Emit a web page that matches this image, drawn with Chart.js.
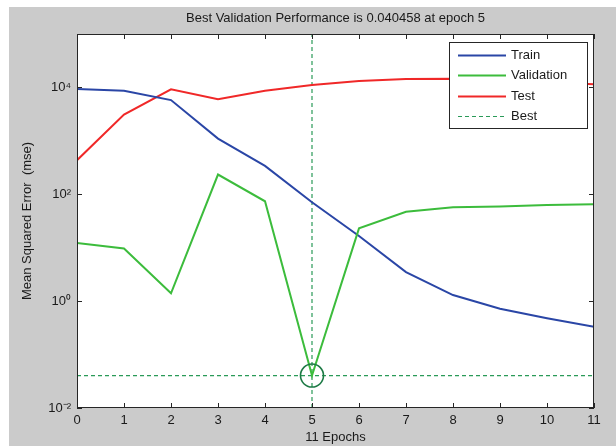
<!DOCTYPE html>
<html>
<head>
<meta charset="utf-8">
<script src="https://cdn.jsdelivr.net/npm/chart.js@4/dist/chart.umd.min.js"></script>
<style>
        html, body { margin: 0; padding: 0; background: #ffffff; }
        #perf { position: absolute; left: 9px; top: 7px; background: #cbcbcb; }
</style>
</head>
<body>
<canvas id="perf" width="607" height="439"></canvas>
<script>
// values
var epochs = [0, 1, 2, 3, 4, 5, 6, 7, 8, 9, 10, 11];
var train_mse = [9300, 8700, 5800, 1100, 340, 71, 16.6, 3.5, 1.3, 0.72, 0.48, 0.33];
var val_mse = [12.2, 9.7, 1.4, 234, 74, 0.040458, 23, 47, 57, 59, 63, 65];
var test_mse = [435, 3100, 9200, 6000, 8700, 11100, 13200, 14400, 14500, 13500, 12500, 11500];
var best_epoch = 5;
var best_perf = 0.040458;
var y_tick_values = [0.01, 1, 100, 10000];
var y_tick_labels = ["10\u207B\u00B2", "10\u2070", "10\u00B2", "10\u2074"];
var series_names = ["Train", "Validation", "Test", "Best"];

var font_family = "'Liberation Sans', Arial, Helvetica, sans-serif";

function to_points(ys) {
        return epochs.map(function(x, i) { return { x: x, y: ys[i] }; });
}

// white axes background, box round the axes with inward ticks
var frame_plugin = {
        id: "frame",
        beforeDatasetsDraw: function(chart) {
                var ctx = chart.ctx;
                var a = chart.chartArea;
                ctx.save();
                ctx.fillStyle = "#ffffff";
                ctx.fillRect(a.left, a.top, a.right - a.left, a.bottom - a.top);
                ctx.restore();
        },
        afterDatasetsDraw: function(chart) {
                var ctx = chart.ctx;
                var a = chart.chartArea;
                var xs = chart.scales.x;
                var ys = chart.scales.y;
                ctx.save();
                ctx.strokeStyle = "#262626";
                ctx.lineWidth = 1;
                ctx.strokeRect(a.left + 0.5, a.top + 0.5, a.right - a.left - 1, a.bottom - a.top - 1);
                ctx.beginPath();
                epochs.forEach(function(e) {
                        var px = Math.round(xs.getPixelForValue(e)) + 0.5;
                        ctx.moveTo(px, a.bottom); ctx.lineTo(px, a.bottom - 5);
                        ctx.moveTo(px, a.top); ctx.lineTo(px, a.top + 5);
                });
                y_tick_values.forEach(function(v) {
                        var py = Math.round(ys.getPixelForValue(v)) + 0.5;
                        ctx.moveTo(a.left, py); ctx.lineTo(a.left + 5, py);
                        ctx.moveTo(a.right, py); ctx.lineTo(a.right - 5, py);
                });
                ctx.stroke();
                ctx.restore();
        }
};

// legend box in the upper right corner of the axes
var legend_plugin = {
        id: "box_legend",
        afterDraw: function(chart) {
                var ctx = chart.ctx;
                var bx = 440, by = 35, bw = 138, bh = 86;
                ctx.save();
                ctx.fillStyle = "#ffffff";
                ctx.fillRect(bx, by, bw, bh);
                ctx.strokeStyle = "#262626";
                ctx.lineWidth = 1;
                ctx.strokeRect(bx + 0.5, by + 0.5, bw, bh);
                ctx.font = "13px " + font_family;
                ctx.textBaseline = "middle";
                ctx.textAlign = "left";
                for (let i = 0; i < series_names.length; i++) {
                        var ds = chart.data.datasets[i];
                        var ly = Math.round(by + 12.5 + i * 20.5) + 0.5;
                        ctx.beginPath();
                        ctx.strokeStyle = ds.borderColor;
                        ctx.lineWidth = ds.borderWidth;
                        ctx.setLineDash(ds.borderDash || []);
                        ctx.moveTo(bx + 9, ly);
                        ctx.lineTo(bx + 57, ly);
                        ctx.stroke();
                        ctx.setLineDash([]);
                        ctx.fillStyle = "#1a1a1a";
                        ctx.fillText(series_names[i], bx + 62, ly);
                }
                ctx.restore();
        }
};

new Chart("perf", {
        type: "line",
        data: {
                datasets: [{
                        label: series_names[0],
                        data: to_points(train_mse),
                        borderColor: "#2a46a6",
                        borderWidth: 2,
                        pointRadius: 0,
                        fill: false,
                        order: 3
                }, {
                        label: series_names[1],
                        data: to_points(val_mse),
                        borderColor: "#3cbc3c",
                        borderWidth: 2,
                        pointRadius: 0,
                        fill: false,
                        order: 1
                }, {
                        label: series_names[2],
                        data: to_points(test_mse),
                        borderColor: "#f02828",
                        borderWidth: 2,
                        pointRadius: 0,
                        fill: false,
                        order: 4
                }, {
                        label: series_names[3],
                        data: [{ x: epochs[0], y: best_perf }, { x: epochs[epochs.length - 1], y: best_perf }],
                        borderColor: "#2a9a58",
                        borderWidth: 1.2,
                        borderDash: [4, 3],
                        pointRadius: 0,
                        fill: false,
                        order: 5
                }, {
                        label: "best epoch",
                        data: [{ x: best_epoch, y: y_tick_values[0] }, { x: best_epoch, y: 1e5 }],
                        borderColor: "#2a9a58",
                        borderWidth: 1.2,
                        borderDash: [4, 3],
                        pointRadius: 0,
                        fill: false,
                        order: 5
                }, {
                        label: "best point",
                        data: [{ x: best_epoch, y: best_perf }],
                        showLine: false,
                        pointStyle: "circle",
                        pointRadius: 11.5,
                        pointBorderWidth: 1.6,
                        pointBorderColor: "#1d7a45",
                        pointBackgroundColor: "rgba(0,0,0,0)",
                        order: 0
                }]
        },
        options: {
                responsive: false,
                animation: false,
                devicePixelRatio: 1,
                layout: { padding: { left: 0, top: 0, right: 22, bottom: 0 } },
                plugins: {
                        legend: { display: false },
                        tooltip: { enabled: false },
                        title: {
                                display: true,
                                fullSize: false,
                                text: "Best Validation Performance is " + best_perf + " at epoch " + best_epoch,
                                color: "#1a1a1a",
                                font: { family: font_family, size: 13, weight: "normal", lineHeight: 1.2 },
                                padding: { top: 4, bottom: 7.4 }
                        }
                },
                scales: {
                        x: {
                                type: "linear",
                                min: 0,
                                max: 11,
                                afterFit: function(scale) { scale.height = 38; },
                                grid: { display: false, drawTicks: false },
                                border: { display: false },
                                ticks: {
                                        stepSize: 1,
                                        padding: 5,
                                        maxRotation: 0,
                                        color: "#1a1a1a",
                                        font: { family: font_family, size: 13 }
                                },
                                title: {
                                        display: true,
                                        text: epochs[epochs.length - 1] + " Epochs",
                                        color: "#1a1a1a",
                                        font: { family: font_family, size: 13, lineHeight: 1.2 },
                                        padding: { top: 0, bottom: 1.2 }
                                }
                        },
                        y: {
                                type: "logarithmic",
                                min: 0.01,
                                max: 1e5,
                                afterFit: function(scale) { scale.width = 68; },
                                afterBuildTicks: function(scale) {
                                        scale.ticks = y_tick_values.map(function(v) { return { value: v }; });
                                },
                                grid: { display: false, drawTicks: false },
                                border: { display: false },
                                ticks: {
                                        padding: 6,
                                        color: "#1a1a1a",
                                        font: { family: font_family, size: 13 },
                                        callback: function(value) {
                                                var i = y_tick_values.indexOf(value);
                                                return i >= 0 ? y_tick_labels[i] : "";
                                        }
                                },
                                title: {
                                        display: true,
                                        text: "Mean Squared Error  (mse)",
                                        color: "#1a1a1a",
                                        font: { family: font_family, size: 13, lineHeight: 1.2 },
                                        padding: { top: 11, bottom: 0 }
                                }
                        }
                }
        },
        plugins: [frame_plugin, legend_plugin]
});
</script>
</body>
</html>
